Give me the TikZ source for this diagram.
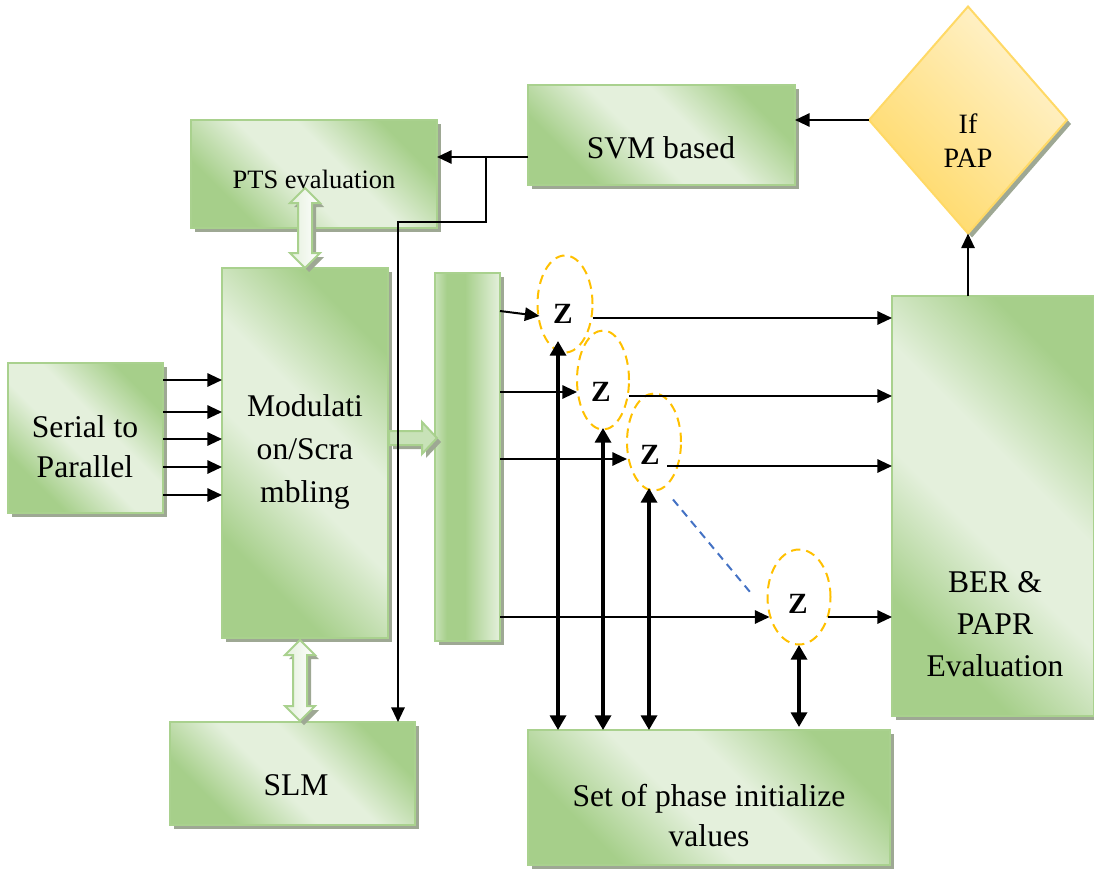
\documentclass[tikz,border=0pt]{standalone}
\usepackage{fontspec}
\setmainfont{Liberation Serif}
\usetikzlibrary{shapes.geometric,shadows,arrows.meta,calc}
\definecolor{gdark}{RGB}{166,207,138}
\definecolor{glight}{RGB}{228,240,220}
\definecolor{gmid}{RGB}{200,226,184}
\definecolor{gborder}{RGB}{169,209,142}
\definecolor{shadowc}{RGB}{158,168,148}
\definecolor{ydark}{RGB}{255,217,102}
\definecolor{ylight}{RGB}{255,243,208}
\definecolor{zor}{RGB}{255,192,0}
\definecolor{bluedash}{RGB}{68,114,196}
\pgfdeclarehorizontalshading{thinsh}{100bp}{color(0bp)=(gmid); color(25bp)=(gmid); color(34bp)=(gdark); color(48bp)=(gdark); color(75bp)=(glight); color(100bp)=(glight)}
\pgfdeclareverticalshading{boxsh}{100bp}{color(0bp)=(gdark); color(28bp)=(gdark); color(45bp)=(glight); color(57bp)=(glight); color(74bp)=(gdark); color(100bp)=(gdark)}
\begin{document}
\begin{tikzpicture}[x=0.75pt,y=-0.75pt,
  shad/.style={drop shadow={shadow xshift=3pt,shadow yshift=-3pt,fill=shadowc,opacity=1}},
  gbox/.style={rectangle,draw=gborder,line width=1.5pt,inner sep=0pt,outer sep=0pt,
    shading=boxsh,shading angle=-45,shad},
  thinbox/.style={rectangle,draw=gborder,line width=1.5pt,inner sep=0pt,outer sep=0pt,
    shading=thinsh,shad},
  decision/.style={diamond,draw=ydark,line width=1.5pt,inner sep=0pt,outer sep=0pt,
    top color=ylight,bottom color=ydark,shading angle=-45,shad},
  zell/.style={ellipse,draw=zor,line width=1.5pt,dash pattern=on 7pt off 4.5pt,inner sep=0pt,outer sep=0pt},
  blockdbl/.style={draw=gborder,line width=1.5pt,left color=glight,right color=white,shad},
  blocksgl/.style={draw=gborder,line width=1.5pt,fill=gmid,shad},
  txt/.style={font=\fontsize{23.7}{31}\selectfont,align=center,inner sep=0pt},
  ztxt/.style={font=\fontsize{22}{26}\selectfont\bfseries,inner sep=0pt},
  thinarr/.style={line width=1.5pt,-{Triangle[length=11pt,width=10pt]}},
  thickarr/.style={line width=2.5pt,{Triangle[length=11pt,width=12pt]}-{Triangle[length=11pt,width=12pt]}},
  dashline/.style={draw=bluedash,line width=1.5pt,dash pattern=on 6pt off 4.5pt}
]
\useasboundingbox (0,0) rectangle (1094,870);

% boxes
\node[gbox,minimum width=184.5pt,minimum height=81pt] (pts) at (314,174) {};
\node[gbox,minimum width=200.25pt,minimum height=75pt] (svm) at (661.5,135) {};
\node[decision,minimum width=148.5pt,minimum height=170.25pt] (dia) at (968,120) {};
\node[gbox,minimum width=124.5pt,minimum height=277.5pt] (mod) at (305,453) {};
\node[gbox,minimum width=116.25pt,minimum height=112.5pt] (ser) at (85.5,438) {};
\node[thinbox,minimum width=48.75pt,minimum height=276pt] (thin) at (467.5,457) {};
\node[gbox,minimum width=183.75pt,minimum height=77.25pt] (slm) at (292.5,773.5) {};
\node[gbox,minimum width=271.5pt,minimum height=101.25pt] (set) at (709,797.5) {};
\node[gbox,minimum width=151.5pt,minimum height=315pt] (ber) at (993,506) {};

% block arrows
\path[blockdbl] (305,188) -- (320,203) -- (312,203) -- (312,253) -- (320,253) -- (305,268)
  -- (290,253) -- (298,253) -- (298,203) -- (290,203) -- cycle;
\path[blocksgl] (389,431) -- (422,431) -- (422,422) -- (437,438) -- (422,454) -- (422,445)
  -- (389,445) -- cycle;
\path[blockdbl] (300,640) -- (315,655) -- (307,655) -- (307,706) -- (315,706) -- (300,721)
  -- (285,706) -- (293,706) -- (293,655) -- (285,655) -- cycle;

% texts
\node[txt,font=\fontsize{19.9}{25}\selectfont] (ptst) at (314,179) {PTS evaluation};
\node[txt] (svmt) at (661,148) {SVM based};
\node[txt,font=\fontsize{21}{25.5}\selectfont] (diat) at (968,141) {If\\PAP};
\node[txt,font=\fontsize{23.7}{32.5}\selectfont] (modt) at (305,452) {Modulati\\on/Scra\\mbling};
\node[txt,font=\fontsize{23.7}{30}\selectfont] (sert) at (85,447) {Serial to\\Parallel};
\node[txt] (slmt) at (296,785) {SLM};
\node[txt,font=\fontsize{23.7}{30}\selectfont] (sett) at (709,816) {Set of phase initialize\\values};
\node[txt,font=\fontsize{23.7}{31.5}\selectfont] (bert) at (995,624) {BER \&\\PAPR\\Evaluation};

% Z elements
\node[zell,minimum width=41.25pt,minimum height=72.75pt] (z1) at (565,304) {};
\node[zell,minimum width=39pt,minimum height=74.25pt] (z2) at (603,380) {};
\node[zell,minimum width=40.5pt,minimum height=72.75pt] (z3) at (654,442) {};
\node[zell,minimum width=47.25pt,minimum height=71.25pt] (z4) at (799,597) {};
\node[ztxt] (z1t) at (563,314) {Z};
\node[ztxt] (z2t) at (601,392) {Z};
\node[ztxt] (z3t) at (650,455) {Z};
\node[ztxt] (z4t) at (798,604) {Z};

% serial to parallel arrows
\foreach \yy in {380,412,439,467,495}
  \draw[thinarr] (ser.east |- 0,\yy) -- (mod.west |- 0,\yy);

% to/from Z
\draw[thinarr] (thin.east |- 0,311) -- ($(z1.west)+(2,12)$);
\draw[thinarr] ($(z1.east)+(0,14)$) -- (ber.west |- 0,318);
\draw[thinarr] (thin.east |- 0,392) -- ($(z2.west)+(0,12)$);
\draw[thinarr] ($(z2.east)+(0,16)$) -- (ber.west |- 0,396);
\draw[thinarr] (thin.east |- 0,459) -- ($(z3.west)+(0,17)$);
\draw[thinarr] ($(z3.east)+(-14,24)$) -- (ber.west |- 0,466);
\draw[thinarr] (thin.east |- 0,617) -- ($(z4.west)+(2,20)$);
\draw[thinarr] ($(z4.east)+(-3,20)$) -- (ber.west |- 0,617);
\draw[dashline] ($(z3.south)+(19,9)$) -- ($(z4.west)+(-15,-2)$);

% vertical double arrows
\coordinate (v1) at (558,341);
\coordinate (v2) at (603,428);
\coordinate (v3) at (649,488);
\coordinate (v4) at (799,645);
\draw[thickarr] (v1) -- (v1 |- set.north);
\draw[thickarr] (v2) -- (v2 |- set.north);
\draw[thickarr] (v3) -- (v3 |- set.north);
\draw[thickarr] (v4) -- ($(v4 |- set.north)+(0,-3)$);

% top feedback
\draw[thinarr] (ber.north -| dia.south) -- (dia.south);
\draw[thinarr] (dia.west) -- (dia.west -| svm.east);
\coordinate (j1) at (486,157);
\coordinate (j2) at (486,222);
\coordinate (j3) at (398,222);
\draw[thinarr] (svm.west |- j1) -- (j1 -| pts.east);
\draw[thinarr] (j1) -- (j2) -- (j3) -- (j3 |- slm.north);
\end{tikzpicture}
\end{document}
